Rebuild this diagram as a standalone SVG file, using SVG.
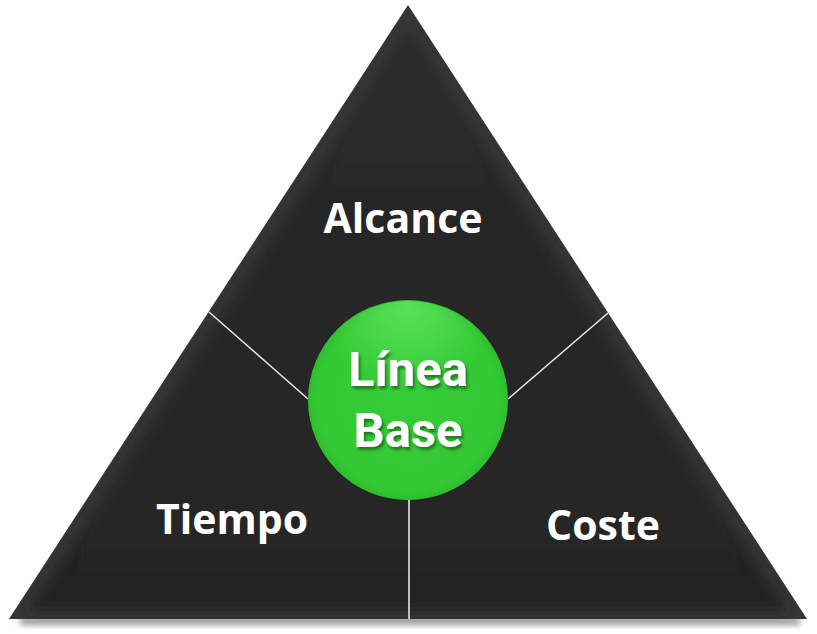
<svg xmlns="http://www.w3.org/2000/svg" width="817" height="634" viewBox="0 0 817 634">
<style>
.lbl{font-family:"Open Sans","Liberation Sans",sans-serif;font-weight:bold;font-size:41px;fill:#ffffff;text-anchor:middle}
.ctr{font-family:Roboto,"Liberation Sans",sans-serif;font-weight:bold;font-size:49px;fill:#ffffff;text-anchor:middle}
.conn{stroke:#e6e6e6;stroke-width:1.6;fill:none}
</style>
<defs>
<filter id="blur6" x="-10%" y="-10%" width="120%" height="120%"><feGaussianBlur stdDeviation="6"/></filter>
<filter id="shadow" x="-10%" y="-50%" width="120%" height="200%"><feGaussianBlur stdDeviation="3"/></filter>
<filter id="tshadow" x="-20%" y="-20%" width="140%" height="140%">
<feDropShadow dx="2" dy="3" stdDeviation="1.5" flood-color="#000" flood-opacity="0.4"/>
</filter>
<radialGradient id="green" cx="0.5" cy="0.5" r="0.5">
<stop offset="0" stop-color="#36cc36"/>
<stop offset="0.9" stop-color="#34c934"/>
<stop offset="1" stop-color="#2dbd2d"/>
</radialGradient>
<radialGradient id="ghl" cx="0.5" cy="0.0" r="0.45">
<stop offset="0" stop-color="#6aee6a" stop-opacity="0.7"/>
<stop offset="1" stop-color="#6aee6a" stop-opacity="0"/>
</radialGradient>
<linearGradient id="bot" x1="0" y1="0" x2="0" y2="1">
<stop offset="0" stop-color="#2a2a2a"/>
<stop offset="1" stop-color="#242424"/>
</linearGradient>
</defs>
<g id="shadow-base">
<rect x="20" y="617" width="780" height="8" fill="#9a9a9a" filter="url(#shadow)"/>
</g>
<g id="triangle">
<polygon points="408,5 807,619 9,619" fill="#363636"/>
<polygon points="408,28 788,611 28,611" fill="url(#bot)" filter="url(#blur6)"/>
</g>
<g id="connectors">
<line class="conn" x1="209" y1="312" x2="308" y2="399"/>
<line class="conn" x1="608" y1="313" x2="508" y2="399"/>
<line class="conn" x1="409" y1="498" x2="409" y2="619"/>
</g>
<g id="node-alcance"><text class="lbl" x="403" y="233">Alcance</text></g>
<g id="node-tiempo"><text class="lbl" x="232" y="534">Tiempo</text></g>
<g id="node-coste"><text class="lbl" x="603" y="540">Coste</text></g>
<g id="node-linea-base">
<circle cx="408" cy="400" r="100" fill="url(#green)"/>
<circle cx="408" cy="400" r="99" fill="url(#ghl)"/>
<text class="ctr" x="408" y="386" filter="url(#tshadow)">Línea</text>
<text class="ctr" x="408" y="447" filter="url(#tshadow)">Base</text>
</g>
</svg>
